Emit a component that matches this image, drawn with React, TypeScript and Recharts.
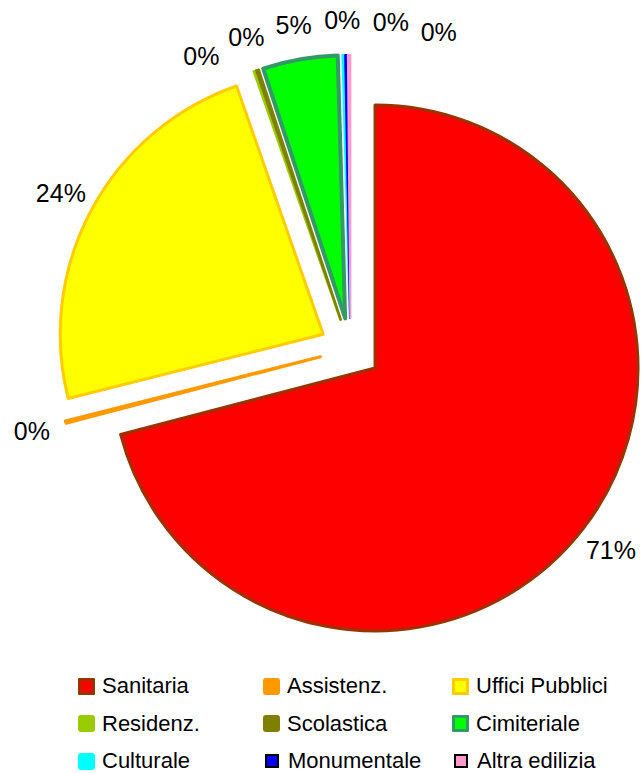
import React from 'react';
import { PieChart, Pie, Cell } from 'recharts';

// ---- data ----
const categories = [
  'Sanitaria',
  'Assistenz.',
  'Uffici Pubblici',
  'Residenz.',
  'Scolastica',
  'Cimiteriale',
  'Culturale',
  'Monumentale',
  'Altra edilizia',
];
const shares = [71.0, 0.15, 23.6, 0.15, 0.15, 4.6, 0.15, 0.15, 0.15];

// ---- styles ----
const fills = ['#FF0000', '#FF9900', '#FFFF00', '#99CC00', '#808000', '#00FF00', '#00FFFF', '#0000FF', '#FF99CC'];
const strokes = ['#993300', '#FF9900', '#FFCC00', '#99CC00', '#808000', '#339966', '#00FFFF', '#0000FF', '#FF99CC'];
const strokeWidths = [3, 3, 3, 2.5, 2.5, 4, 2, 2, 2];
const legendBorders: (string | null)[] = ['#993300', null, '#FFCC00', null, null, '#339966', null, '#000000', '#000000'];

// ---- layout ----
const W = 643;
const H = 773;
const CX = 350.5;
const CY = 349;
const R = 263;
const EXPLODE = 31;
const LABEL_R = 329;
const START = 90;
const FONT = "'Liberation Sans', Arial, Helvetica, sans-serif";

const data = categories.map((name, i) => ({ name, value: shares[i] }));
const total = shares.reduce((a, b) => a + b, 0);
const percents = shares.map((v) => Math.round((v / total) * 100));

const midAngles: number[] = [];
{
  let acc = START;
  shares.forEach((v) => {
    const sweep = (v / total) * 360;
    midAngles.push(acc - sweep / 2);
    acc -= sweep;
  });
}

function spreadLabels(mids: number[], weights: number[], minGap: number) {
  const a = mids.slice();
  for (let it = 0; it < 3000; it++) {
    let moved = false;
    for (let i = 0; i < a.length - 1; i++) {
      const gap = a[i] - a[i + 1];
      if (gap < minGap - 1e-6) {
        const d = minGap - gap;
        const wi = weights[i];
        const wj = weights[i + 1];
        a[i] += (d * wj) / (wi + wj);
        a[i + 1] -= (d * wi) / (wi + wj);
        moved = true;
      }
    }
    if (!moved) break;
  }
  return a;
}

const labelAngles = spreadLabels(
  midAngles,
  shares.map((v) => v * v + 0.05),
  8.5,
);

const renderLabel = (props: any) => {
  const i = props.index;
  const rad = (labelAngles[i] * Math.PI) / 180;
  const x = CX + LABEL_R * Math.cos(rad);
  const y = CY - LABEL_R * Math.sin(rad);
  return (
    <text
      key={`lbl-${i}`}
      x={x}
      y={y}
      textAnchor="middle"
      dominantBaseline="central"
      fontFamily={FONT}
      fontSize={25}
      fill="#000"
    >
      {`${percents[i]}%`}
    </text>
  );
};

export default function App() {
  return (
    <div style={{ position: 'fixed', left: 0, top: 0, width: W, height: H, overflow: 'hidden', background: '#fff' }}>
      <div style={{ position: 'absolute', left: 0, top: 0 }}>
        <PieChart width={W} height={H} margin={{ top: 0, right: 0, bottom: 0, left: 0 }}>
          {categories.map((_, k) => {
            const m = (midAngles[k] * Math.PI) / 180;
            return (
              <Pie
                key={`slice-${k}`}
                data={data}
                dataKey="value"
                nameKey="name"
                cx={CX + EXPLODE * Math.cos(m)}
                cy={CY - EXPLODE * Math.sin(m)}
                innerRadius={0}
                outerRadius={R}
                startAngle={START}
                endAngle={START - 360}
                isAnimationActive={false}
                legendType="none"
              >
                {data.map((_, j) =>
                  j === k ? (
                    <Cell
                      key={`c-${j}`}
                      fill={fills[j]}
                      stroke={strokes[j]}
                      strokeWidth={strokeWidths[j]}
                      strokeLinejoin="round"
                    />
                  ) : (
                    <Cell key={`c-${j}`} fill="none" stroke="none" />
                  ),
                )}
              </Pie>
            );
          })}
          <Pie
            key="labels"
            data={data}
            dataKey="value"
            nameKey="name"
            cx={CX}
            cy={CY}
            innerRadius={0}
            outerRadius={R}
            startAngle={START}
            endAngle={START - 360}
            isAnimationActive={false}
            legendType="none"
            label={renderLabel}
            labelLine={false}
          >
            {data.map((_, j) => (
              <Cell key={`l-${j}`} fill="none" stroke="none" />
            ))}
          </Pie>
        </PieChart>
      </div>
      {categories.map((name, i) => {
        const col = i % 3;
        const row = Math.floor(i / 3);
        const colLeft = [78, 263, 452];
        const border = legendBorders[i];
        const isBlack = border === '#000000';
        return (
          <div
            key={`lg-${i}`}
            style={{
              position: 'absolute',
              left: colLeft[col],
              top: 668 + row * 37.5,
              height: 36,
              display: 'flex',
              alignItems: 'center',
              fontFamily: FONT,
              fontSize: 22,
              lineHeight: '18px',
              color: '#000',
              whiteSpace: 'nowrap',
            }}
          >
            <span
              style={{
                display: 'inline-block',
                boxSizing: 'border-box',
                width: isBlack ? 14 : 17,
                height: isBlack ? 14 : 17,
                marginLeft: isBlack ? 2 : 0,
                marginRight: isBlack ? 9 : 7,
                background: fills[i],
                border: border ? `${isBlack ? 2 : 3.5}px solid ${border}` : 'none',
                borderRadius: border && !isBlack ? 1 : isBlack ? 0 : 3,
              }}
            />
            <span style={{ lineHeight: '18px', display: 'inline-block', height: 18 }}>{name}</span>
          </div>
        );
      })}
    </div>
  );
}
